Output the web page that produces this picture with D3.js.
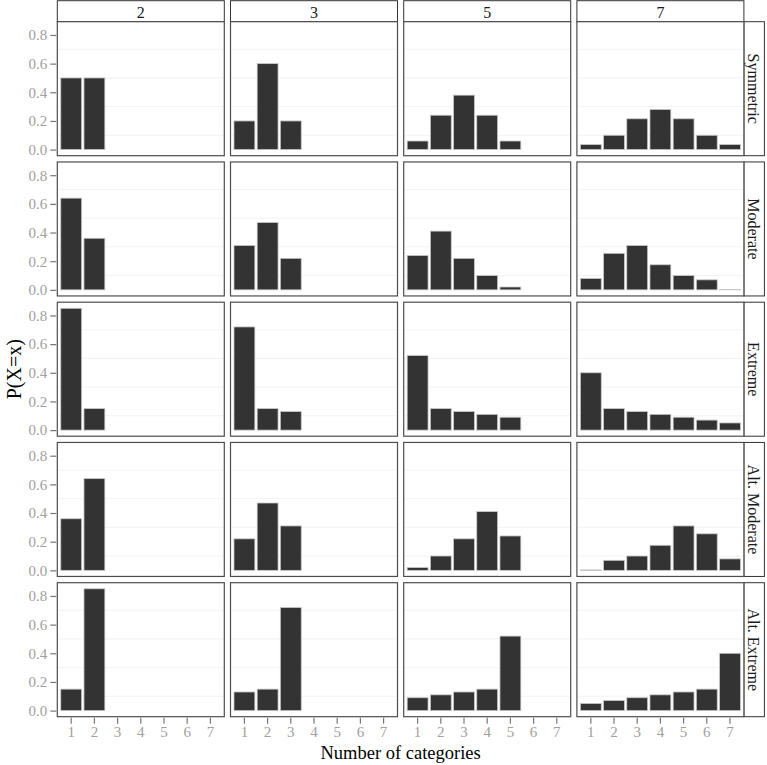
<!DOCTYPE html>
<html>
<head>
<meta charset="utf-8">
<script src="https://cdn.jsdelivr.net/npm/d3@7"></script>
<style>
  body { margin: 0; background: #fff; }
  svg text { font-family: "Liberation Serif", "DejaVu Serif", serif; }
</style>
</head>
<body>
<div class="chart"></div>
<script>
// facet columns (number of categories) and rows (distribution shape)
const nCats = [2, 3, 5, 7];
const shapes = ["Symmetric", "Moderate", "Extreme", "Alt. Moderate", "Alt. Extreme"];
const xCats = [1, 2, 3, 4, 5, 6, 7];
const yTicks = [0, 0.2, 0.4, 0.6, 0.8];
const yMinor = [0.1, 0.3, 0.5, 0.7];

// P(X=x) per panel, one list per number of categories
const symmetric = [
  [0.5, 0.5],
  [0.2, 0.6, 0.2],
  [0.06, 0.24, 0.38, 0.24, 0.06],
  [0.035, 0.10, 0.215, 0.28, 0.215, 0.10, 0.035]
];
const moderate = [
  [0.64, 0.36],
  [0.31, 0.47, 0.22],
  [0.24, 0.41, 0.22, 0.10, 0.02],
  [0.08, 0.255, 0.31, 0.175, 0.10, 0.07, 0.003]
];
const extreme = [
  [0.85, 0.15],
  [0.72, 0.15, 0.13],
  [0.52, 0.15, 0.13, 0.11, 0.09],
  [0.40, 0.15, 0.13, 0.11, 0.09, 0.07, 0.05]
];
const altModerate = [
  [0.36, 0.64],
  [0.22, 0.47, 0.31],
  [0.02, 0.10, 0.22, 0.41, 0.24],
  [0.003, 0.07, 0.10, 0.175, 0.31, 0.255, 0.08]
];
const altExtreme = [
  [0.15, 0.85],
  [0.13, 0.15, 0.72],
  [0.09, 0.11, 0.13, 0.15, 0.52],
  [0.05, 0.07, 0.09, 0.11, 0.13, 0.15, 0.40]
];
const rowData = [symmetric, moderate, extreme, altModerate, altExtreme];

// layout
const w = 767, h = 765;
const mLeft = 57.3, mTop = 21.7;
const pw = 167, ph = 134, gapX = 6.2, gapY = 6.25;
const stripH = 21, stripW = 20.5;

const svg = d3.select('.chart')
  .append('svg')
  .attr('width', w)
  .attr('height', h);

const x = d3.scaleBand()
  .domain(xCats)
  .range([0, pw])
  .paddingInner(0.1)
  .paddingOuter(0.15);

const yMax = d3.max(rowData.flat(2));
const pad = yMax * 0.05;
const y = d3.scaleLinear()
  .domain([-pad, yMax + pad])
  .range([ph, 0]);

// top strips
nCats.forEach((k, c) => {
  const gx = mLeft + c * (pw + gapX);
  svg.append('rect')
    .attr('x', gx).attr('y', mTop - stripH)
    .attr('width', pw).attr('height', stripH)
    .attr('fill', '#fff').attr('stroke', '#333').attr('stroke-width', 1);
  svg.append('text')
    .attr('x', gx + pw / 2).attr('y', mTop - stripH / 2 + 1)
    .attr('text-anchor', 'middle')
    .attr('dominant-baseline', 'central')
    .attr('font-size', 16)
    .attr('fill', '#1a1a1a')
    .text(k);
});

shapes.forEach((shape, r) => {
  const gy = mTop + r * (ph + gapY);

  // right strip
  const sx = mLeft + 4 * pw + 3 * gapX;
  svg.append('rect')
    .attr('x', sx).attr('y', gy)
    .attr('width', stripW).attr('height', ph)
    .attr('fill', '#fff').attr('stroke', '#333').attr('stroke-width', 1);
  svg.append('text')
    .attr('transform', `translate(${sx + stripW / 2 - 1},${gy + ph / 2}) rotate(90)`)
    .attr('text-anchor', 'middle')
    .attr('dominant-baseline', 'central')
    .attr('font-size', 16)
    .attr('fill', '#1a1a1a')
    .text(shape);

  nCats.forEach((k, c) => {
    const gx = mLeft + c * (pw + gapX);
    const g = svg.append('g').attr('transform', `translate(${gx},${gy})`);

    g.append('rect')
      .attr('width', pw).attr('height', ph)
      .attr('fill', '#fff');

    // faint grid
    g.selectAll('line.grid')
      .data(yMinor)
      .enter()
      .append('line')
      .attr('class', 'grid')
      .attr('x1', 0).attr('x2', pw)
      .attr('y1', d => y(d)).attr('y2', d => y(d))
      .attr('stroke', '#efefef')
      .attr('stroke-width', 0.8);

    const vals = rowData[r][c].map((v, i) => ({ cat: i + 1, p: v }));
    g.selectAll('.bar')
      .data(vals)
      .enter()
      .append('rect')
      .attr('class', 'bar')
      .attr('x', d => x(d.cat))
      .attr('y', d => y(d.p))
      .attr('width', x.bandwidth())
      .attr('height', d => y(0) - y(d.p))
      .attr('fill', '#333333')
      .attr('stroke', '#c8c8c8')
      .attr('stroke-width', 0.8);

    g.append('rect')
      .attr('width', pw).attr('height', ph)
      .attr('fill', 'none')
      .attr('stroke', '#4d4d4d')
      .attr('stroke-width', 1.2);

    if (c === 0) {
      const ay = g.append('g')
        .call(d3.axisLeft(y).tickValues(yTicks).tickFormat(d3.format('.1f')).tickSize(6).tickPadding(4));
      ay.select('.domain').remove();
      ay.selectAll('line').attr('stroke', '#777').attr('stroke-width', 1.2).attr('transform', 'translate(-1,0)');
      ay.selectAll('text').attr('font-size', 15).attr('fill', '#a0a0a0')
        .attr('font-family', '"Liberation Serif", serif');
    }
    if (r === shapes.length - 1) {
      const ax = g.append('g')
        .attr('transform', `translate(0,${ph})`)
        .call(d3.axisBottom(x).tickSize(6).tickPadding(4));
      ax.select('.domain').remove();
      ax.selectAll('line').attr('stroke', '#777').attr('stroke-width', 1.2).attr('transform', 'translate(0,1)');
      ax.selectAll('text').attr('font-size', 15).attr('fill', '#a0a0a0')
        .attr('font-family', '"Liberation Serif", serif');
    }
  });
});

// axis titles
svg.append('text')
  .attr('x', mLeft + (4 * pw + 3 * gapX) / 2)
  .attr('y', 759)
  .attr('text-anchor', 'middle')
  .attr('font-size', 18.5)
  .attr('fill', '#000')
  .text('Number of categories');

svg.append('text')
  .attr('transform', `translate(14,${mTop + (5 * ph + 4 * gapY) / 2}) rotate(-90)`)
  .attr('text-anchor', 'middle')
  .attr('dominant-baseline', 'central')
  .attr('font-size', 20)
  .attr('fill', '#000')
  .text('P(X=x)');
</script>
</body>
</html>
